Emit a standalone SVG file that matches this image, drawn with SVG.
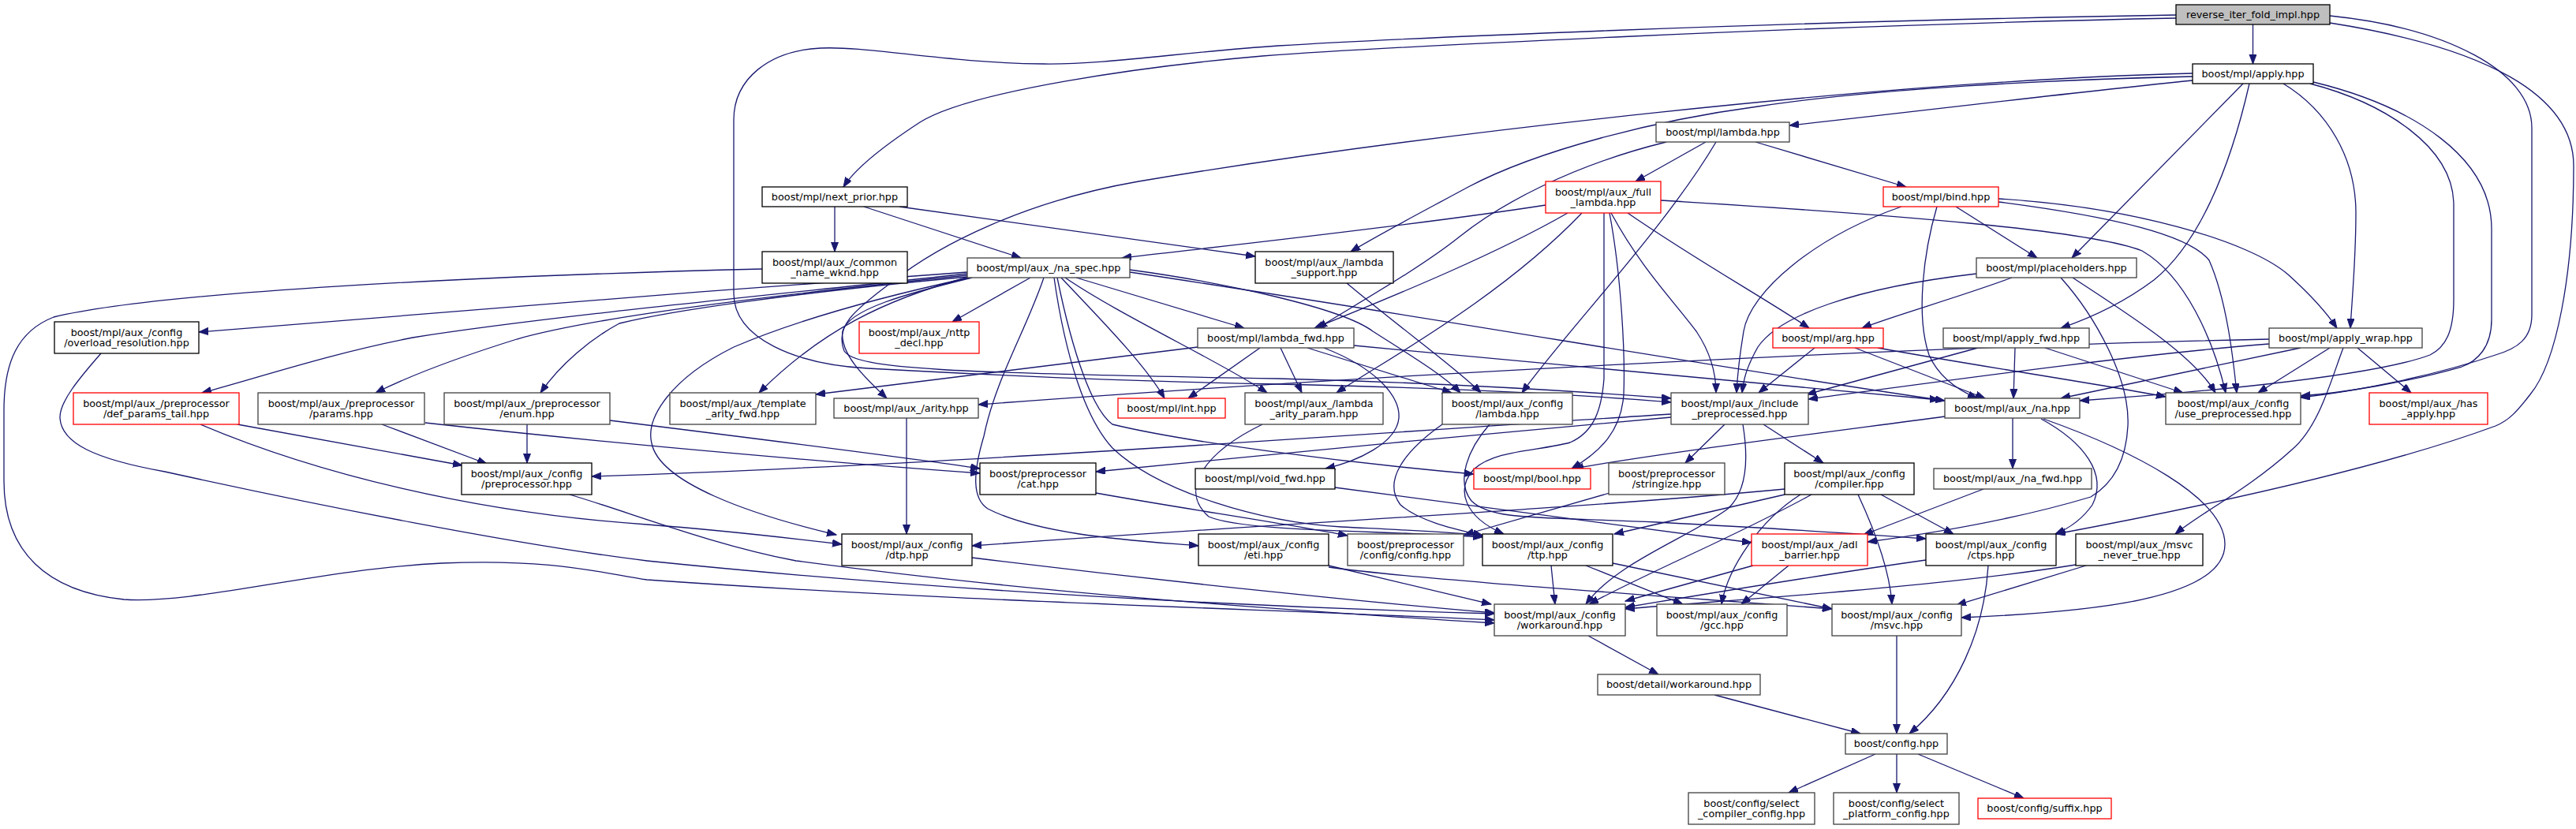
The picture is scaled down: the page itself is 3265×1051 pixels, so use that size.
<svg xmlns="http://www.w3.org/2000/svg" width="3265" height="1051" viewBox="0 0 3265 1051">
<defs>
<marker id="a" markerUnits="userSpaceOnUse" markerWidth="14" markerHeight="10" refX="12" refY="4.5" orient="auto"><path d="M0,0 L12,4.5 L0,9 z" fill="#191970" stroke="#191970" stroke-width="1"/></marker>
</defs>
<style>
rect{fill:#fff;stroke:#404040;stroke-width:1.3}
.k rect{stroke:#000}
.r rect{stroke:#f00}
.top rect{fill:#bfbfbf;stroke:#000}
text{font-family:"DejaVu Sans","Liberation Sans",sans-serif;font-size:12.8px;text-anchor:middle;fill:#000}
#edges path{fill:none;stroke:#191970;stroke-width:1.3;marker-end:url(#a)}
</style>
<rect x="0" y="0" width="3265" height="1051" style="fill:#fff;stroke:none"/>
<g id="edges">
<path d="M2855.5,31 L2855.5,81"/>
<path d="M2758,23 C2300,32 1750,60 1600,71 C1450,84 1230,115 1166,155 C1120,185 1085,212 1069,237"/>
<path d="M2758,19 C2250,27 1750,50 1620,58 C1500,66 1400,82 1323,81 C1200,80 1100,58 1040,61 C975,64 930,100 930,152 L930,372 C930,430 1010,462 1100,467 C1300,478 1500,485 1620,487 C1850,492 2000,500 2118,510"/>
<path d="M2953,20 C3100,35 3209,90 3209,162 L3209,399 C3209,430 3190,442 3163,450 C3080,478 2980,497 2916,504"/>
<path d="M2953,29 C3150,60 3262,120 3262,210 C3262,350 3240,460 3207,500 C3190,522 3180,533 3163,540 C3000,600 2750,650 2606,677"/>
<path d="M2779,102 C2600,120 2400,145 2268,159"/>
<path d="M2779,97 C2600,101 2380,112 2228,135 C2100,152 1950,190 1861,237 C1800,270 1750,296 1712,319"/>
<path d="M2779,93 C2400,102 1800,170 1443,230 C1300,255 1190,310 1130,358 C1080,395 1058,415 1070,445 C1085,468 1200,473 1620,480 C1850,486 2000,496 2118,505"/>
<path d="M2843,106 L2626,327"/>
<path d="M2851,106 C2825,220 2785,310 2730,355 C2690,385 2650,403 2612,416"/>
<path d="M2894,106 C2950,140 2986,200 2986,270 C2986,330 2981,380 2979,416"/>
<path d="M2928,106 C3020,130 3110,185 3110,260 L3110,380 C3110,420 3100,440 3080,450 C3000,480 2750,500 2636,508"/>
<path d="M2932,104 C3060,135 3158,200 3158,290 L3158,405 C3158,440 3140,458 3120,465 C3050,485 2970,498 2916,502"/>
<path d="M1058,262 L1058,319"/>
<path d="M1095,262 L1294,327"/>
<path d="M1140,262 L1591,325"/>
<path d="M2112,180 C1990,210 1900,260 1850,300 C1800,340 1720,385 1670,416"/>
<path d="M2162,180 L2073,230"/>
<path d="M2175,180 C2110,290 1985,420 1929,498"/>
<path d="M2225,180 L2416,237"/>
<path d="M1959,260 C1800,285 1550,312 1422,327"/>
<path d="M1987,270 C1900,320 1780,370 1666,416"/>
<path d="M2005,270 C1900,380 1750,460 1694,498"/>
<path d="M2063,270 C2150,330 2240,380 2293,416"/>
<path d="M2042,270 C2080,340 2120,380 2150,420 C2170,450 2175,475 2175,498"/>
<path d="M2040,270 C2055,350 2060,450 2058,500 C2055,545 2030,572 1992,594"/>
<path d="M2033,270 L2033,480 C2030,520 2020,548 1990,561 C1950,572 1895,570 1868,595 C1845,620 1855,655 1906,677"/>
<path d="M2105,254 C2400,272 2650,292 2715,318 C2770,350 2805,430 2821,498"/>
<path d="M2479,262 L2582,327"/>
<path d="M2455,262 C2438,320 2428,400 2445,450 C2458,480 2485,496 2506,505"/>
<path d="M2533,252 C2700,262 2850,305 2900,348 C2930,375 2950,398 2962,416"/>
<path d="M2533,256 C2680,275 2775,298 2800,330 C2822,380 2830,450 2835,498"/>
<path d="M2410,262 C2300,300 2218,370 2210,420 C2205,450 2202,478 2201,498"/>
<path d="M966,341 C600,350 200,370 68,402 C22,420 5,460 5,520 L5,610 C5,700 60,750 157,760 C250,766 400,722 560,714 C700,708 760,726 820,735 C1200,762 1600,772 1894,786"/>
<path d="M1364,352 L1577,416"/>
<path d="M1345,352 C1390,400 1450,460 1476,505"/>
<path d="M1340,352 C1360,450 1385,520 1410,538 C1500,560 1700,586 1868,601"/>
<path d="M1432,345 C1800,400 2200,470 2465,508"/>
<path d="M1232,352 C1150,372 1075,392 1068,420 C1064,450 1100,482 1124,505"/>
<path d="M1228,351 C1120,380 1040,420 962,498"/>
<path d="M1226,349 C1000,372 760,400 655,430 C575,455 520,476 476,498"/>
<path d="M1226,351 C1000,372 850,394 785,410 C748,430 710,462 685,498"/>
<path d="M1226,347 C1000,372 700,400 523,428 C420,448 330,478 256,498"/>
<path d="M1350,352 C1420,400 1550,460 1606,498"/>
<path d="M1229,352 C1100,380 1000,410 930,440 C850,480 818,530 826,562 C836,612 950,652 1060,678"/>
<path d="M1323,352 C1300,420 1262,480 1247,553 C1233,600 1232,632 1252,645 C1320,680 1450,686 1519,692"/>
<path d="M1306,352 L1207,408"/>
<path d="M1336,352 C1350,450 1375,530 1410,568 C1470,625 1600,662 1700,668 C1780,672 1850,675 1880,679"/>
<path d="M1432,342 C1550,358 1700,390 1740,420 C1790,452 1830,476 1851,498"/>
<path d="M1226,345 C900,368 500,400 252,421"/>
<path d="M1707,359 C1780,420 1850,470 1877,498"/>
<path d="M2550,352 C2480,378 2400,400 2360,416"/>
<path d="M2505,347 C2350,365 2255,400 2228,440 C2214,465 2210,480 2208,498"/>
<path d="M2612,352 C2655,400 2700,480 2697,540 C2695,580 2680,612 2650,630 C2550,660 2450,676 2367,687"/>
<path d="M2627,352 C2700,400 2780,450 2808,498"/>
<path d="M128,448 C100,480 75,510 76,530 C78,562 120,582 209,598 C400,640 650,690 820,711 C1200,750 1600,770 1894,778"/>
<path d="M1623,441 L1650,498"/>
<path d="M1657,441 L1840,498"/>
<path d="M1678,441 C1740,465 1775,500 1773,530 C1770,562 1720,585 1680,594"/>
<path d="M1716,438 C2000,465 2300,492 2458,507"/>
<path d="M1597,441 L1506,505"/>
<path d="M1518,440 L1034,500"/>
<path d="M2300,441 L2229,498"/>
<path d="M2351,441 L2516,505"/>
<path d="M2380,441 C2500,463 2650,485 2745,503"/>
<path d="M2554,441 L2552,505"/>
<path d="M2592,441 L2767,498"/>
<path d="M2507,441 L2290,500"/>
<path d="M2876,430 C2400,440 1700,478 1240,513"/>
<path d="M2988,441 L3056,498"/>
<path d="M2916,441 L2612,505"/>
<path d="M2970,441 C2955,480 2940,540 2905,570 C2850,620 2790,650 2757,677"/>
<path d="M2953,441 L2862,498"/>
<path d="M2876,436 C2700,450 2450,485 2292,506"/>
<path d="M2551,530 L2551,594"/>
<path d="M2465,528 C2300,550 2100,575 1995,594"/>
<path d="M2590,531 C2700,570 2820,630 2820,690 C2820,760 2650,776 2486,783"/>
<path d="M2587,531 C2640,560 2672,600 2652,640 C2638,660 2622,670 2605,677"/>
<path d="M2235,538 L2311,587"/>
<path d="M2186,538 L2136,587"/>
<path d="M2209,538 C2216,580 2215,622 2190,645 C2140,682 2050,712 2010,766"/>
<path d="M2118,525 C1800,545 1200,590 750,604"/>
<path d="M2118,529 C1900,548 1600,577 1389,598"/>
<path d="M1828,538 C1780,572 1752,610 1775,640 C1800,662 1850,672 1879,679"/>
<path d="M1888,538 C1860,570 1845,610 1865,635 C1890,660 1950,655 2100,662 C2250,670 2350,676 2441,683"/>
<path d="M1600,538 C1530,572 1492,620 1532,655 C1580,675 1750,672 1879,681"/>
<path d="M722,627 C800,650 900,690 1009,711 C1300,750 1600,772 1894,790"/>
<path d="M1389,625 C1500,645 1620,662 1708,679"/>
<path d="M1692,618 L2220,688"/>
<path d="M2040,625 L1856,678"/>
<path d="M2262,620 C2000,645 1600,665 1232,692"/>
<path d="M2262,627 L2046,677"/>
<path d="M2384,627 L2476,677"/>
<path d="M2355,627 C2375,670 2395,720 2398,766"/>
<path d="M2282,627 C2230,660 2190,720 2182,766"/>
<path d="M2296,627 C2200,680 2100,720 2014,766"/>
<path d="M2514,620 L2362,678"/>
<path d="M1232,707 C1500,740 1750,765 1894,777"/>
<path d="M1684,717 L1890,766"/>
<path d="M1684,719 C1800,735 2100,755 2322,772"/>
<path d="M1966,717 L1971,766"/>
<path d="M2010,717 L2133,766"/>
<path d="M2044,714 L2322,772"/>
<path d="M2222,717 L2060,762"/>
<path d="M2267,717 L2207,766"/>
<path d="M2441,710 C2300,730 2150,755 2060,770"/>
<path d="M2520,717 C2515,800 2480,880 2420,930"/>
<path d="M2644,717 L2480,767"/>
<path d="M2631,716 C2450,745 2200,760 2060,772"/>
<path d="M2013,806 L2102,855"/>
<path d="M2404,806 L2404,930"/>
<path d="M2173,881 L2358,930"/>
<path d="M2377,956 L2267,1005"/>
<path d="M2404,956 L2404,1005"/>
<path d="M2431,956 L2565,1012"/>
<path d="M301,538 L586,590"/>
<path d="M254,538 C400,600 600,650 820,665 C900,671 1000,682 1067,690"/>
<path d="M484,538 L617,588"/>
<path d="M539,536 C800,565 1100,590 1242,600"/>
<path d="M668,538 L668,587"/>
<path d="M773,533 C950,555 1150,580 1242,594"/>
<path d="M1149,530 L1149,677"/>
</g>
<g id="n_reverse_iter_fold_impl" class="top"><rect x="2758" y="6" width="195" height="25"/><text x="2855.5" y="23">reverse_iter_fold_impl.hpp</text></g>
<g id="n_apply" class="k"><rect x="2779" y="81" width="153" height="25"/><text x="2855.5" y="98">boost/mpl/apply.hpp</text></g>
<g id="n_next_prior" class="k"><rect x="966" y="237" width="184" height="25"/><text x="1058" y="254">boost/mpl/next_prior.hpp</text></g>
<g id="n_lambda"><rect x="2099" y="155" width="169" height="25"/><text x="2183.5" y="172">boost/mpl/lambda.hpp</text></g>
<g id="n_full_lambda" class="r"><rect x="1959" y="230" width="146" height="40"/><text x="2032" y="247.5">boost/mpl/aux_/full</text><text x="2032" y="261">_lambda.hpp</text></g>
<g id="n_bind" class="r"><rect x="2387" y="237" width="146" height="25"/><text x="2460" y="254">boost/mpl/bind.hpp</text></g>
<g id="n_common_name_wknd" class="k"><rect x="966" y="319" width="184" height="40"/><text x="1058" y="336.5">boost/mpl/aux_/common</text><text x="1058" y="350">_name_wknd.hpp</text></g>
<g id="n_na_spec"><rect x="1226" y="327" width="206" height="25"/><text x="1329" y="344">boost/mpl/aux_/na_spec.hpp</text></g>
<g id="n_lambda_support" class="k"><rect x="1591" y="319" width="175" height="40"/><text x="1678.5" y="336.5">boost/mpl/aux_/lambda</text><text x="1678.5" y="350">_support.hpp</text></g>
<g id="n_placeholders"><rect x="2505" y="327" width="203" height="25"/><text x="2606.5" y="344">boost/mpl/placeholders.hpp</text></g>
<g id="n_overload_resolution" class="k"><rect x="69" y="408" width="183" height="40"/><text x="160.5" y="425.5">boost/mpl/aux_/config</text><text x="160.5" y="439">/overload_resolution.hpp</text></g>
<g id="n_nttp_decl" class="r"><rect x="1089" y="408" width="152" height="40"/><text x="1165" y="425.5">boost/mpl/aux_/nttp</text><text x="1165" y="439">_decl.hpp</text></g>
<g id="n_lambda_fwd"><rect x="1518" y="416" width="198" height="25"/><text x="1617" y="433">boost/mpl/lambda_fwd.hpp</text></g>
<g id="n_arg" class="r"><rect x="2247" y="416" width="140" height="25"/><text x="2317" y="433">boost/mpl/arg.hpp</text></g>
<g id="n_apply_fwd"><rect x="2463" y="416" width="185" height="25"/><text x="2555.5" y="433">boost/mpl/apply_fwd.hpp</text></g>
<g id="n_apply_wrap"><rect x="2876" y="416" width="194" height="25"/><text x="2973" y="433">boost/mpl/apply_wrap.hpp</text></g>
<g id="n_def_params_tail" class="r"><rect x="93" y="498" width="210" height="40"/><text x="198" y="515.5">boost/mpl/aux_/preprocessor</text><text x="198" y="529">/def_params_tail.hpp</text></g>
<g id="n_params"><rect x="327" y="498" width="211" height="40"/><text x="432.5" y="515.5">boost/mpl/aux_/preprocessor</text><text x="432.5" y="529">/params.hpp</text></g>
<g id="n_enum"><rect x="563" y="498" width="210" height="40"/><text x="668" y="515.5">boost/mpl/aux_/preprocessor</text><text x="668" y="529">/enum.hpp</text></g>
<g id="n_template_arity_fwd"><rect x="849" y="498" width="185" height="40"/><text x="941.5" y="515.5">boost/mpl/aux_/template</text><text x="941.5" y="529">_arity_fwd.hpp</text></g>
<g id="n_arity"><rect x="1057" y="505" width="183" height="25"/><text x="1148.5" y="522">boost/mpl/aux_/arity.hpp</text></g>
<g id="n_int" class="r"><rect x="1417" y="505" width="136" height="25"/><text x="1485" y="522">boost/mpl/int.hpp</text></g>
<g id="n_lambda_arity_param"><rect x="1578" y="498" width="175" height="40"/><text x="1665.5" y="515.5">boost/mpl/aux_/lambda</text><text x="1665.5" y="529">_arity_param.hpp</text></g>
<g id="n_config_lambda"><rect x="1828" y="498" width="165" height="40"/><text x="1910.5" y="515.5">boost/mpl/aux_/config</text><text x="1910.5" y="529">/lambda.hpp</text></g>
<g id="n_include_preprocessed"><rect x="2118" y="498" width="174" height="40"/><text x="2205" y="515.5">boost/mpl/aux_/include</text><text x="2205" y="529">_preprocessed.hpp</text></g>
<g id="n_na"><rect x="2465" y="505" width="171" height="25"/><text x="2550.5" y="522">boost/mpl/aux_/na.hpp</text></g>
<g id="n_use_preprocessed"><rect x="2745" y="498" width="171" height="40"/><text x="2830.5" y="515.5">boost/mpl/aux_/config</text><text x="2830.5" y="529">/use_preprocessed.hpp</text></g>
<g id="n_has_apply" class="r"><rect x="3003" y="498" width="150" height="40"/><text x="3078" y="515.5">boost/mpl/aux_/has</text><text x="3078" y="529">_apply.hpp</text></g>
<g id="n_config_preprocessor" class="k"><rect x="585" y="587" width="165" height="40"/><text x="667.5" y="604.5">boost/mpl/aux_/config</text><text x="667.5" y="618">/preprocessor.hpp</text></g>
<g id="n_cat" class="k"><rect x="1242" y="587" width="147" height="40"/><text x="1315.5" y="604.5">boost/preprocessor</text><text x="1315.5" y="618">/cat.hpp</text></g>
<g id="n_void_fwd" class="k"><rect x="1515" y="594" width="177" height="26"/><text x="1603.5" y="611">boost/mpl/void_fwd.hpp</text></g>
<g id="n_bool" class="r"><rect x="1868" y="594" width="148" height="26"/><text x="1942" y="611">boost/mpl/bool.hpp</text></g>
<g id="n_stringize"><rect x="2039" y="587" width="147" height="40"/><text x="2112.5" y="604.5">boost/preprocessor</text><text x="2112.5" y="618">/stringize.hpp</text></g>
<g id="n_compiler" class="k"><rect x="2262" y="587" width="164" height="40"/><text x="2344" y="604.5">boost/mpl/aux_/config</text><text x="2344" y="618">/compiler.hpp</text></g>
<g id="n_na_fwd"><rect x="2451" y="594" width="200" height="26"/><text x="2551" y="611">boost/mpl/aux_/na_fwd.hpp</text></g>
<g id="n_dtp" class="k"><rect x="1067" y="677" width="165" height="40"/><text x="1149.5" y="694.5">boost/mpl/aux_/config</text><text x="1149.5" y="708">/dtp.hpp</text></g>
<g id="n_eti" class="k"><rect x="1519" y="677" width="165" height="40"/><text x="1601.5" y="694.5">boost/mpl/aux_/config</text><text x="1601.5" y="708">/eti.hpp</text></g>
<g id="n_pp_config"><rect x="1708" y="677" width="147" height="40"/><text x="1781.5" y="694.5">boost/preprocessor</text><text x="1781.5" y="708">/config/config.hpp</text></g>
<g id="n_ttp" class="k"><rect x="1879" y="677" width="165" height="40"/><text x="1961.5" y="694.5">boost/mpl/aux_/config</text><text x="1961.5" y="708">/ttp.hpp</text></g>
<g id="n_adl_barrier" class="r"><rect x="2220" y="677" width="147" height="40"/><text x="2293.5" y="694.5">boost/mpl/aux_/adl</text><text x="2293.5" y="708">_barrier.hpp</text></g>
<g id="n_ctps" class="k"><rect x="2441" y="677" width="165" height="40"/><text x="2523.5" y="694.5">boost/mpl/aux_/config</text><text x="2523.5" y="708">/ctps.hpp</text></g>
<g id="n_msvc_never_true" class="k"><rect x="2631" y="677" width="161" height="40"/><text x="2711.5" y="694.5">boost/mpl/aux_/msvc</text><text x="2711.5" y="708">_never_true.hpp</text></g>
<g id="n_workaround"><rect x="1894" y="766" width="166" height="40"/><text x="1977" y="783.5">boost/mpl/aux_/config</text><text x="1977" y="797">/workaround.hpp</text></g>
<g id="n_gcc"><rect x="2100" y="766" width="165" height="40"/><text x="2182.5" y="783.5">boost/mpl/aux_/config</text><text x="2182.5" y="797">/gcc.hpp</text></g>
<g id="n_msvc"><rect x="2322" y="766" width="164" height="40"/><text x="2404" y="783.5">boost/mpl/aux_/config</text><text x="2404" y="797">/msvc.hpp</text></g>
<g id="n_detail_workaround"><rect x="2025" y="855" width="206" height="26"/><text x="2128" y="872">boost/detail/workaround.hpp</text></g>
<g id="n_config"><rect x="2339" y="930" width="129" height="26"/><text x="2403.5" y="947">boost/config.hpp</text></g>
<g id="n_select_compiler_config"><rect x="2140" y="1005" width="160" height="40"/><text x="2220" y="1022.5">boost/config/select</text><text x="2220" y="1036">_compiler_config.hpp</text></g>
<g id="n_select_platform_config"><rect x="2324" y="1005" width="159" height="40"/><text x="2403.5" y="1022.5">boost/config/select</text><text x="2403.5" y="1036">_platform_config.hpp</text></g>
<g id="n_suffix" class="r"><rect x="2507" y="1012" width="169" height="26"/><text x="2591.5" y="1029">boost/config/suffix.hpp</text></g>
</svg>
